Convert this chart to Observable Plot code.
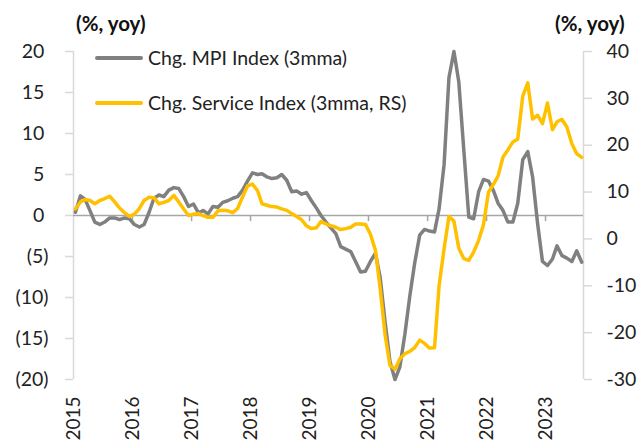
<!DOCTYPE html>
<html><head><meta charset="utf-8">
<script src="https://cdn.jsdelivr.net/npm/d3@7"></script>
<script src="https://cdn.jsdelivr.net/npm/@observablehq/plot@0.6"></script>
<style>
body{margin:0;background:#fff;font-family:Lato, sans-serif;}
#wrap{position:relative;width:638px;height:442px;overflow:hidden;}
#wrap svg{position:absolute;left:0;top:0;}
.unit{position:absolute;font-weight:bold;font-size:20.5px;color:#111;line-height:22px;}
.leg{position:absolute;left:95px;font-size:19.5px;color:#222;line-height:22px;white-space:nowrap;display:flex;align-items:center;}
.sw{display:inline-block;width:48px;height:4px;margin-right:5px;border-radius:2px;}
</style></head><body><div id="wrap"></div>
<script>
// Monthly series, Jan 2015 - Aug 2023
const startYear = 2015, startMonth = 0;
const mpiSeries = [0.4,2.4,2.0,0.6,-0.8,-1.1,-0.8,-0.3,-0.3,-0.5,-0.3,-0.4,
  -1.1,-1.4,-1.1,0.4,2.1,2.5,2.3,3.1,3.4,3.3,2.3,1.1,
  1.4,0.3,0.6,0.2,1.1,1.0,1.6,1.8,2.1,2.3,3.1,4.2,
  5.2,5.0,5.1,4.7,4.5,4.6,5.0,4.3,2.9,3.0,2.6,2.8,
  1.8,0.9,0.0,-0.8,-1.5,-2.2,-3.8,-4.1,-4.4,-5.6,-6.9,-6.8,
  -5.6,-4.6,-7.5,-13,-17.8,-20,-18.5,-14.5,-9.8,-5.8,-2.4,-1.7,
  -1.9,-2.0,0.8,6.2,16.8,20,16.3,8,-0.2,-0.4,2.9,4.4,
  4.2,3.0,1.5,0.6,-0.8,-0.8,1.5,6.8,7.8,4.7,-1.0,-5.6,
  -6.1,-5.3,-3.7,-4.9,-5.2,-5.6,-4.3,-5.7];
const serviceSeries = [6.4,7.9,8.4,8.2,7.5,8.2,8.6,9.1,7.9,6.6,5.6,4.8,
  5.3,6.5,8.2,8.9,8.8,7.5,7.8,8.2,9.3,7.9,6.4,5.0,
  5.3,5.4,5.0,4.6,4.6,6.0,6.1,6.0,5.6,6.5,9.0,11.3,
  11.7,10.3,7.5,7.2,6.9,6.8,6.4,6.1,5.4,4.8,4.1,2.8,
  2.2,2.4,3.7,3.2,2.8,2.5,2.0,2.2,2.5,3.2,3.2,3.1,
  1.0,-2.4,-10.5,-20.5,-27,-27.8,-25.6,-24.5,-24.0,-23.2,-21.6,-22.3,
  -23.3,-23.2,-10,-2.1,4.8,3.8,-2,-4.2,-4.6,-2.8,-0.3,3.1,
  10.0,11.7,13.4,17.5,19.0,20.7,21.3,30.5,33.3,25.6,26.4,24.6,
  29.0,23.3,25.0,25.5,23.9,20.3,18.2,17.4];
const seriesNames = ["Chg. MPI Index (3mma)", "Chg. Service Index (3mma, RS)"];
const unitLabel = "(%, yoy)";
const yearTicks = [2015,2016,2017,2018,2019,2020,2021,2022,2023];
const leftTicks = [-20,-15,-10,-5,0,5,10,15,20];
const rightTicks = [-30,-20,-10,0,10,20,30,40];
const leftDomain = [-20,20], rightDomain = [-30,40];

const W = 638, H = 442;
const start = new Date(Date.UTC(startYear, startMonth, 13));
const dates = mpiSeries.map((_, i) => d3.utcMonth.offset(start, i));
const toLeft = v => leftDomain[0] + (v - rightDomain[0]) * (leftDomain[1] - leftDomain[0]) / (rightDomain[1] - rightDomain[0]);
const fromLeft = v => rightDomain[0] + (v - leftDomain[0]) * (rightDomain[1] - rightDomain[0]) / (leftDomain[1] - leftDomain[0]);
const xDomain = [new Date(Date.UTC(startYear, 0, 1)), new Date(Date.UTC(2023, 7, 24))];
const years = yearTicks.map(y => new Date(Date.UTC(y, 0, 1)));
const mpiData = dates.map((d, i) => ({date: d, v: mpiSeries[i]}));
const svcData = dates.map((d, i) => ({date: d, v: toLeft(serviceSeries[i])}));
const fmtLeft = v => v < 0 ? `(${-v})` : `${v}\u2008`;

const chart = Plot.plot({
  width: W, height: H,
  marginLeft: 73, marginRight: 55, marginTop: 51, marginBottom: 63,
  style: {fontFamily: "Lato, sans-serif", fontSize: "19.5px", color: "#222", background: "transparent", overflow: "visible"},
  x: {type: "utc", domain: xDomain, axis: null},
  y: {domain: leftDomain},
  marks: [
    Plot.ruleX(xDomain, {y1: leftDomain[0], y2: leftDomain[1], stroke: "#d9d9d9", strokeWidth: 1.5}),
    Plot.ruleY([0], {stroke: "#a6a6a6", strokeWidth: 1.5}),
    Plot.ruleX(years.slice(1), {y1: 0, y2: -0.75, stroke: "#a6a6a6", strokeWidth: 1.5}),
    Plot.axisY(leftTicks, {anchor: "left", label: null, tickSize: 8, tickPadding: 17, tickFormat: fmtLeft, stroke: "#d9d9d9", strokeWidth: 1.5}),
    Plot.axisY(rightTicks.map(toLeft), {anchor: "right", label: null, tickSize: 8, tickPadding: 15, tickFormat: d => String(Math.round(fromLeft(d))), stroke: "#d9d9d9", strokeWidth: 1.5}),
    Plot.text(years, {x: d => d, y: leftDomain[0], text: d => d3.utcFormat("%Y")(d), rotate: -90, textAnchor: "start", lineAnchor: "middle", dy: 61, fontSize: 19, fill: "#222"}),
    Plot.line(mpiData, {x: "date", y: "v", stroke: "#808080", strokeWidth: 3.5}),
    Plot.line(svcData, {x: "date", y: "v", stroke: "#FFC000", strokeWidth: 3.5})
  ]
});
const wrap = document.getElementById("wrap");
wrap.appendChild(chart);
function addDiv(cls, html, css) {
  const d = document.createElement("div");
  d.className = cls; d.innerHTML = html; Object.assign(d.style, css); wrap.appendChild(d);
}
addDiv("unit", unitLabel, {left: "76px", top: "12px"});
addDiv("unit", unitLabel, {left: "555px", top: "12px"});
addDiv("leg", `<span class="sw" style="background:#808080"></span>${seriesNames[0]}`, {top: "47px"});
addDiv("leg", `<span class="sw" style="background:#FFC000"></span>${seriesNames[1]}`, {top: "92px"});
</script></body></html>
